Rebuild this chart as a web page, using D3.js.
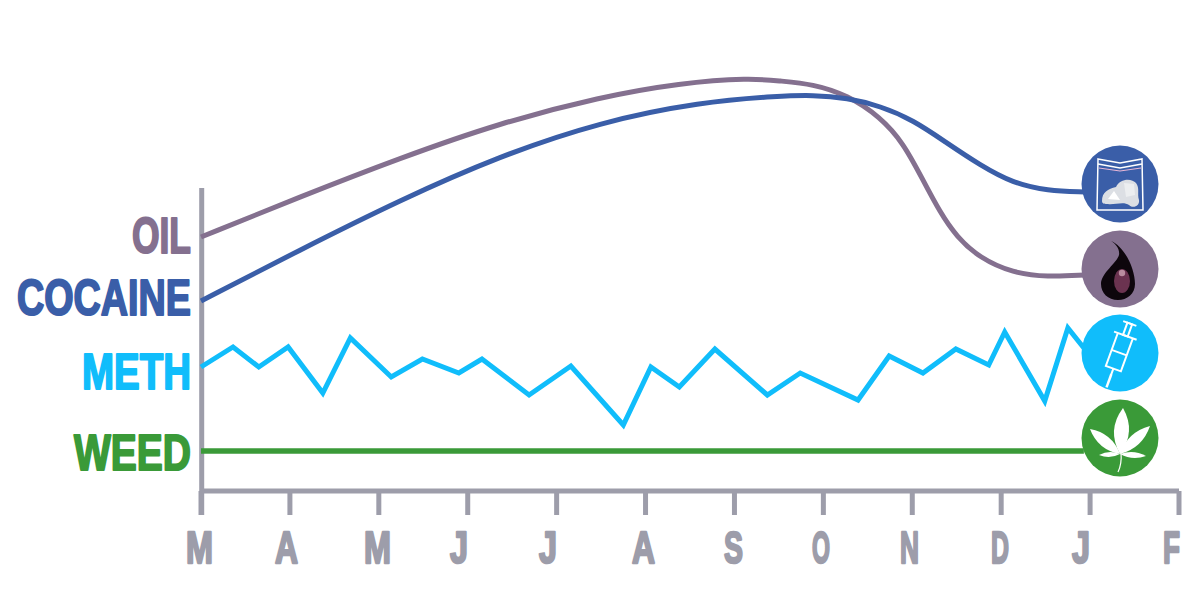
<!DOCTYPE html>
<html>
<head>
<meta charset="utf-8">
<script src="https://cdn.jsdelivr.net/npm/d3@7"></script>
<style>
html, body { margin: 0; padding: 0; background: #fff; }
svg { display: block; }
</style>
</head>
<body>
<svg id="chart" width="1200" height="600"></svg>
<script>
var months = ['M','A','M','J','J','A','S','O','N','D','J','F'];

var oil_x = [0,1.11,2.24,3.36,4.49,5.39,6.18,6.51,6.88,7.27,7.64,7.90,8.12,8.31,8.50,8.76,9.13,9.52,9.94];
var oil_y = [254,294,333,368,394,408,413,410,407,396,374,348,311,279,254,233,218,214,216];
var cocaine_x = [0,1.11,2.24,3.36,4.49,5.62,6.51,6.88,7.27,7.64,8.01,8.39,8.76,9.13,9.52,9.94];
var cocaine_y = [190,241,291,335,369,389,395,396,393,385,371,348,326,308,300,299];
var meth_x = [0,.36,.65,.98,1.37,1.68,2.14,2.49,2.90,3.16,3.69,4.16,4.75,5.06,5.38,5.78,6.37,6.74,7.39,7.74,8.12,8.49,8.86,9.04,9.49,9.75,9.93];
var meth_y = [124,144,124,144,98,153,114,132,118,132,96,125,66,124,104,142,96,118,91,135,118,142,126,159,90,163,143];
var weed_x = [0,9.93];
var weed_y = [40,40];

var svg = d3.select('#chart');
var axis_color = '#9d9daa';
var font = "'Liberation Sans',sans-serif";

var x = d3.scaleLinear().domain([0,11]).range([201,1179]);
var y = d3.scaleLinear().domain([-24,303]).range([515,188]);

function zip(xs, ys) { return xs.map((d,i) => [d, ys[i]]); }

var smooth = d3.line().x(d => x(d[0])).y(d => y(d[1])).curve(d3.curveBasis);
var straight = d3.line().x(d => x(d[0])).y(d => y(d[1]));

// glyph placement of the month letters, the reference does not centre them on the ticks
var tick_left = [186,275,364,450,539,632,724,812,900,991,1072,1163];
var tick_width = [27,23,27,18,18,23,19,18,19,18,18,17];

// axes
var x_axis = svg.append('g').attr('transform', 'translate(0,'+y(0)+')')
	.call(d3.axisBottom(x).offset(0).tickValues(d3.range(12)).tickFormat(d => months[d]).tickSize(24).tickSizeOuter(0));
x_axis.select('.domain').attr('stroke', axis_color).attr('stroke-width', 5);
x_axis.selectAll('line').attr('stroke', axis_color).attr('stroke-width', 5);
x_axis.selectAll('text')
	.attr('text-anchor', 'start')
	.attr('x', d => tick_left[d] - x(d))
	.attr('y', 72).attr('dy', 0)
	.attr('textLength', d => tick_width[d])
	.attr('lengthAdjust', 'spacingAndGlyphs')
	.attr('fill', axis_color)
	.attr('stroke', axis_color).attr('stroke-width', 2.4).attr('stroke-linejoin', 'round')
	.style('font-family', font).style('font-size', '45px').style('font-weight', 700);

var y_axis = svg.append('g').attr('transform', 'translate(201.7,0)')
	.call(d3.axisLeft(y).offset(0).tickValues([]).tickSize(0));
y_axis.select('.domain').attr('stroke', axis_color).attr('stroke-width', 5);

// series
var series = [
	{name:'OIL', color:'#84708f', data:zip(oil_x,oil_y), line:smooth, w:5, base:253, tw:59, icon:269},
	{name:'COCAINE', color:'#3a5ea8', data:zip(cocaine_x,cocaine_y), line:smooth, w:5, base:314.5, tw:174, icon:184},
	{name:'METH', color:'#10bdfb', data:zip(meth_x,meth_y), line:straight, w:5, base:388.5, tw:109, icon:353},
	{name:'WEED', color:'#3a9a38', data:zip(weed_x,weed_y), line:straight, w:5.5, base:469.5, tw:117, icon:438}
];

svg.selectAll('path.series').data(series).enter().append('path')
	.attr('class', 'series')
	.attr('d', d => d.line(d.data))
	.attr('fill', 'none')
	.attr('stroke', d => d.color)
	.attr('stroke-width', d => d.w)
	.attr('stroke-linejoin', 'miter');

svg.selectAll('text.name').data(series).enter().append('text')
	.attr('class', 'name')
	.attr('x', d => 191 - d.tw)
	.attr('y', d => d.base)
	.attr('textLength', d => d.tw)
	.attr('lengthAdjust', 'spacingAndGlyphs')
	.attr('fill', d => d.color)
	.attr('stroke', d => d.color).attr('stroke-width', 2).attr('stroke-linejoin', 'round')
	.style('font-family', font)
	.style('font-size', '50px')
	.style('font-weight', 700)
	.text(d => d.name);

// icons
var icons = svg.selectAll('g.icon').data(series).enter().append('g')
	.attr('class', 'icon')
	.attr('transform', d => 'translate(1120,'+d.icon+')');
icons.append('circle').attr('r', 38.5).attr('fill', d => d.color);

// baggie
var bag = icons.filter(d => d.name == 'COCAINE');
bag.append('path').attr('d', 'M-22,-25 L0,-21 L22,-25 L23,26 L-23,26 Z')
	.attr('fill', 'none').attr('stroke', '#fff').attr('stroke-width', 1.5);
bag.append('path').attr('d', 'M-22,-20 L0,-16 L22,-20').attr('fill', 'none').attr('stroke', '#fff').attr('stroke-width', 1.5);
bag.append('path').attr('d', 'M-21,-16 L0,-13 L21,-16').attr('fill', 'none').attr('stroke', '#e7b6d6').attr('stroke-width', 1.2);
bag.append('path').attr('d', 'M-18,17 C-18,8 -12,5 -4,3 C0,-6 12,-6 16,-1 C20,4 17,10 19,16 C20,22 13,25 9,21 C4,17 -6,21 -12,20 C-15,20 -18,20 -18,17 Z').attr('fill', '#dcdfe4');
bag.append('path').attr('d', 'M-12,15 L-6,7 L0,16 Z').attr('fill', '#fff');
bag.append('path').attr('d', 'M4,-1 L14,0 L15,11 L6,13 Z').attr('fill', '#eceef0');

// oil drop
var drop = icons.filter(d => d.name == 'OIL');
drop.append('path').attr('d', 'M-9,-28 C5,-22 15,0 15,15 C15,25 7,31 -2,31 C-12,31 -19,24 -19,15 C-19,4 -3,-6 -1,-14 C0,-20 -4,-25 -9,-28 Z').attr('fill', '#0d060c');
drop.append('ellipse').attr('cx', 2).attr('cy', 12).attr('rx', 8).attr('ry', 12).attr('fill', '#6b3350');
drop.append('circle').attr('cx', 2).attr('cy', 4).attr('r', 3.2).attr('fill', '#b98d9f');

// syringe
var syr = icons.filter(d => d.name == 'METH').append('g')
	.attr('transform', 'translate(-1.5,1.5) rotate(20)')
	.attr('fill', 'none').attr('stroke', '#fff').attr('stroke-width', 2);
syr.append('path').attr('d', 'M-7,-33 L7,-33 M-12,-20 L12,-20 M-8,-20 L-8,15 L8,15 L8,-20 M-8,-2 L8,-2');
syr.append('path').attr('d', 'M-2.5,-33 H2.5 V-20 H-2.5 Z M0,15 V22');
syr.append('path').attr('d', 'M0,21 V35').attr('stroke-width', 2.5);

// leaf
var leaf = icons.filter(d => d.name == 'WEED');
function leaflet(tx, ty, w) {
	var bx = 0, by = 16, mx = (bx+tx)/2, my = (by+ty)/2;
	var len = Math.hypot(tx-bx, ty-by), nx = -(ty-by)/len*w, ny = (tx-bx)/len*w;
	return 'M'+bx+','+by+' Q'+(mx+nx)+','+(my+ny)+' '+tx+','+ty+' Q'+(mx-nx)+','+(my-ny)+' '+bx+','+by+' Z';
}
var leaf_tips = [[3,-30,15],[-30,-9,11],[30,-12,11],[-21,17,5],[26,18,6]];
leaf.selectAll('path.leaflet').data(leaf_tips).enter().append('path')
	.attr('class', 'leaflet')
	.attr('d', d => leaflet(d[0], d[1], d[2]))
	.attr('fill', '#fff');
leaf.append('path').attr('d', 'M1,14 Q2,26 -2,34').attr('fill', 'none').attr('stroke', '#fff').attr('stroke-width', 1.2);
</script>
</body>
</html>
